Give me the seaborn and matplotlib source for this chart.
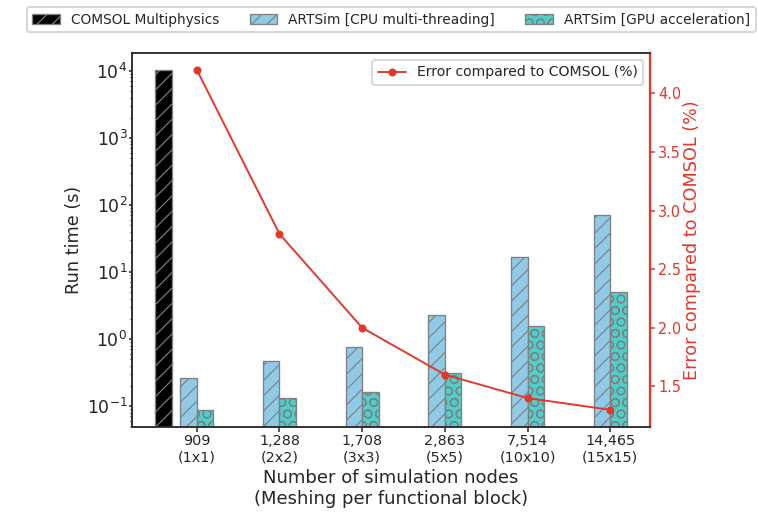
import numpy as np
import pandas as pd
import matplotlib
matplotlib.use("Agg")
import matplotlib.pyplot as plt
import seaborn as sns

# ---- data ----
node_labels = ["909\n(1x1)", "1,288\n(2x2)", "1,708\n(3x3)", "2,863\n(5x5)", "7,514\n(10x10)", "14,465\n(15x15)"]
comsol_time = [10500.0]          # only for first configuration
cpu_time = [0.26, 0.47, 0.76, 2.28, 16.6, 70.0]
gpu_time = [0.087, 0.133, 0.163, 0.31, 1.58, 5.1]
error_pct = [4.2, 2.8, 2.0, 1.6, 1.4, 1.3]

series_names = ["COMSOL Multiphysics", "ARTSim [CPU multi-threading]", "ARTSim [GPU acceleration]"]
err_name = "Error compared to COMSOL (%)"

# ---- style ----
sns.set_style("ticks")
plt.rcParams["font.family"] = ["DejaVu Sans"]
plt.rcParams["hatch.linewidth"] = 0.6

DPI = 138
fig = plt.figure(figsize=(758 / DPI, 513 / DPI), dpi=DPI)
ax = fig.add_axes([0.174, 0.168, 0.684, 0.729])
ax.set_yscale("log")

idx = np.arange(len(node_labels))
bw = 0.2
c_cpu = "#8FCAE7"
c_gpu = "#4ECFCB"
red = "#E5362A"

df_comsol = pd.DataFrame({"x": idx[:1] - 2 * bw, "t": comsol_time})
df_cpu = pd.DataFrame({"x": idx - bw / 2, "t": cpu_time})
df_gpu = pd.DataFrame({"x": idx + bw / 2, "t": gpu_time})

groups = [
    (df_comsol, "black", "///", series_names[0]),
    (df_cpu, c_cpu, "///", series_names[1]),
    (df_gpu, c_gpu, "OO", series_names[2]),
]
handles = []
for d, col, hatch, name in groups:
    n_before = len(ax.patches)
    sns.barplot(data=d, x="x", y="t", native_scale=True, width=bw, color=col,
                errorbar=None, ax=ax, saturation=1, label=name)
    new = ax.patches[n_before:]
    for p in new:
        p.set_hatch(hatch)
        p.set_edgecolor("gray")
        p.set_linewidth(0.7)
    handles.append(new[0])

ax.set_xlim(-0.785, 5.485)
ax.set_ylim(10 ** -1.31, 10 ** 4.27)
ax.set_xticks(idx)
ax.set_xticklabels(node_labels, fontsize=7.5)
ax.tick_params(axis="x", pad=1.5, length=2.5)
ax.tick_params(axis="y", which="major", labelsize=9.0, length=1.5, pad=0.8)
ax.tick_params(axis="y", which="minor", length=1.0)
ax.set_xlabel("Number of simulation nodes\n(Meshing per functional block)", fontsize=9.4, labelpad=2.5)
ax.set_ylabel("Run time (s)", fontsize=9.2, labelpad=2)
for s in ax.spines.values():
    s.set_color("#444444")

if ax.get_legend() is not None:
    ax.get_legend().remove()

ax2 = ax.twinx()
sns.lineplot(x=idx, y=error_pct, ax=ax2, color=red, marker="o", markersize=4.2,
             markeredgewidth=0, linewidth=1.0, label=err_name)
ax2.set_ylabel(err_name, color=red, fontsize=9.2, labelpad=1)
ax2.tick_params(axis="y", colors=red, labelsize=7.6, pad=1.5, length=2.5)
ax2.spines["right"].set_color(red)
ax2.spines["right"].set_linewidth(1.2)
ax2.spines["right"].set_visible(True)
ax2.set_ylim(1.155, 4.345)
ax2.set_xlim(-0.785, 5.485)
ax2.legend(loc="upper right", fontsize=7.3, frameon=True)

ax.legend(handles, series_names, loc="lower center", bbox_to_anchor=(0.5, 1.037),
          ncol=3, fontsize=7.2, frameon=True, columnspacing=2.2)

fig.savefig("out.png", dpi=DPI)
